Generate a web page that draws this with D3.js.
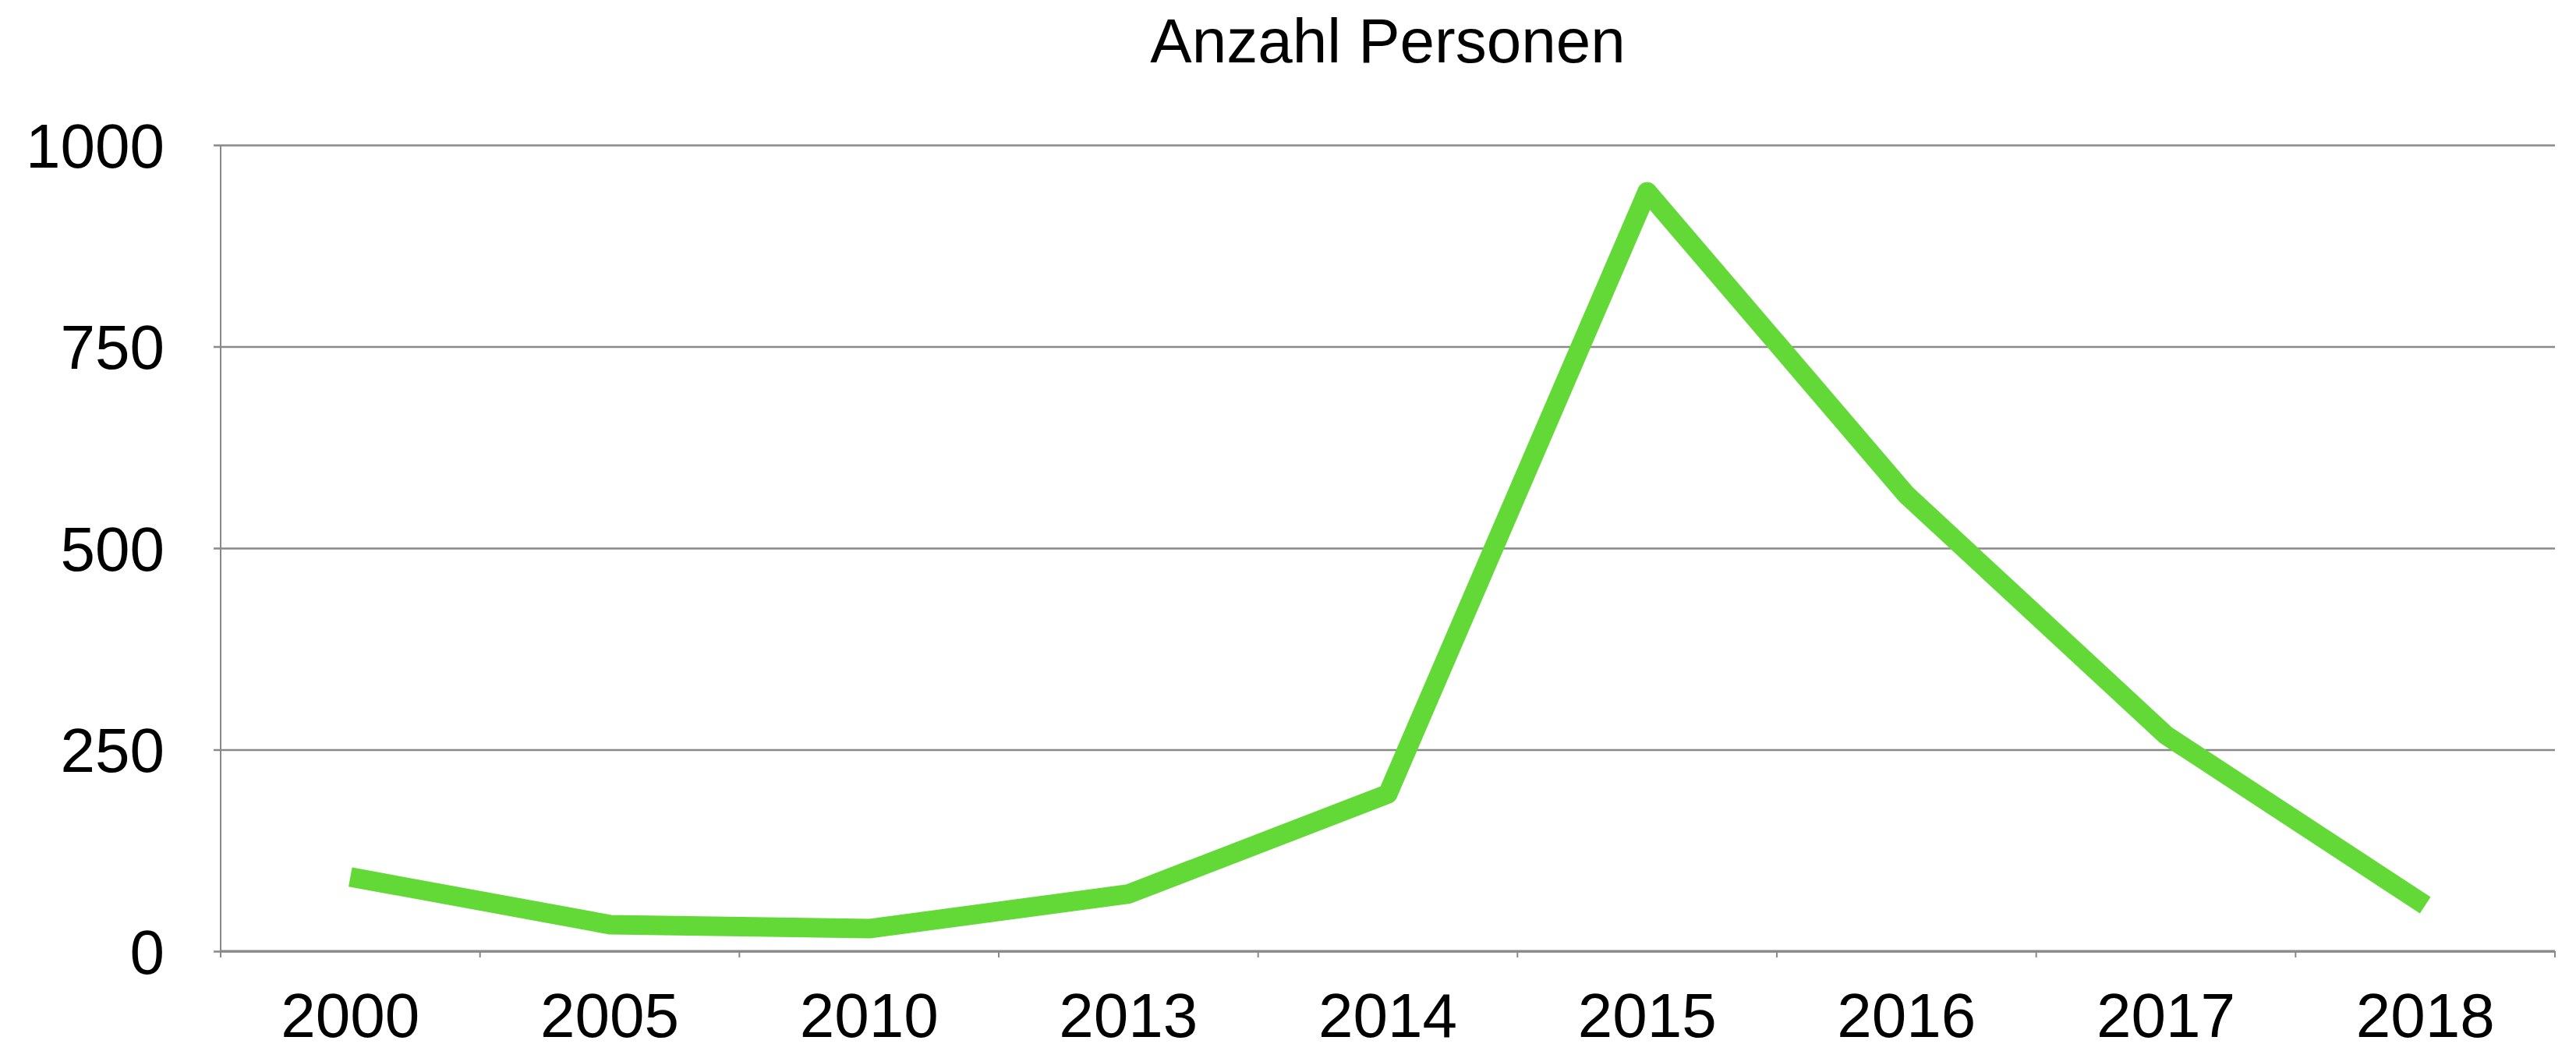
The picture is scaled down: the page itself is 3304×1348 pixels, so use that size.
<!DOCTYPE html>
<html>
<head>
<meta charset="utf-8">
<script src="https://cdn.jsdelivr.net/npm/d3@7"></script>
<style>
  body { margin: 0; background: #fff; }
  text { font-family: "Liberation Sans", Arial, sans-serif; fill: #000; }
</style>
</head>
<body>
<div id="chart"></div>
<script>
// data
const years = ["2000", "2005", "2010", "2013", "2014", "2015", "2016", "2017", "2018"];
const persons = [92, 33, 28, 71, 195, 942, 566, 268, 57];
const yTicks = [0, 250, 500, 750, 1000];
const chartTitle = "Anzahl Personen";

const canvWidth = 3304, canvHeight = 1348;
const margin = {top: 186, right: 27, bottom: 128, left: 283};
const width = canvWidth - margin.left - margin.right;
const height = canvHeight - margin.top - margin.bottom;

const svg = d3.select("#chart").append("svg")
    .attr("width", canvWidth)
    .attr("height", canvHeight);

// title
svg.append("text")
    .attr("x", margin.left + width / 2)
    .attr("y", 80)
    .attr("text-anchor", "middle")
    .style("font-size", "80px")
    .text(chartTitle);

const g = svg.append("g")
    .attr("transform", "translate(" + margin.left + "," + margin.top + ")");

// scales
const xScale = d3.scaleBand()
    .domain(years)
    .range([0, width])
    .padding(0);

const yScale = d3.scaleLinear()
    .domain([0, 1000])
    .range([height, 0]);

// horizontal gridlines + y labels
const yAxis = d3.axisLeft(yScale)
    .tickValues(yTicks)
    .tickSize(-width)
    .tickPadding(0)
    .tickFormat(d3.format("d"));

const gy = g.append("g").attr("id", "y-axis").call(yAxis);
gy.select(".domain").remove();
gy.selectAll(".tick line")
    .attr("x1", -9)
    .attr("stroke", "#898989")
    .attr("stroke-width", 2.5);
gy.selectAll(".tick text")
    .attr("x", -72)
    .attr("dy", "0.35em")
    .style("font-size", "80px")
    .style("font-family", "'Liberation Sans', Arial, sans-serif")
    .attr("fill", "#000");

// left axis line
g.append("line")
    .attr("x1", 0).attr("x2", 0)
    .attr("y1", 0).attr("y2", height + 8)
    .attr("stroke", "#898989")
    .attr("stroke-width", 2);

// x axis: labels centered on bands, ticks on band edges
const xAxis = d3.axisBottom(xScale).tickSize(0).tickPadding(0);
const gx = g.append("g")
    .attr("id", "x-axis")
    .attr("transform", "translate(0," + height + ")")
    .call(xAxis);
gx.select(".domain").remove();
gx.selectAll(".tick text")
    .attr("y", 110)
    .attr("dy", 0)
    .style("font-size", "80px")
    .style("font-family", "'Liberation Sans', Arial, sans-serif")
    .attr("fill", "#000");

const edges = d3.range(years.length + 1).map(i => i * xScale.step());
gx.selectAll(".edge")
    .data(edges)
    .enter().append("line")
    .attr("class", "edge")
    .attr("x1", d => d).attr("x2", d => d)
    .attr("y1", 0).attr("y2", 8)
    .attr("stroke", "#898989")
    .attr("stroke-width", 2);

gx.append("line")
    .attr("x1", 0).attr("x2", width)
    .attr("y1", 0).attr("y2", 0)
    .attr("stroke", "#898989")
    .attr("stroke-width", 3);

// the line
const line = d3.line()
    .x((d, i) => xScale(years[i]) + xScale.bandwidth() / 2)
    .y(d => yScale(d));

g.append("path")
    .datum(persons)
    .attr("fill", "none")
    .attr("stroke", "#62d937")
    .attr("stroke-width", 25)
    .attr("stroke-linejoin", "round")
    .attr("stroke-linecap", "butt")
    .attr("d", line);
</script>
</body>
</html>
